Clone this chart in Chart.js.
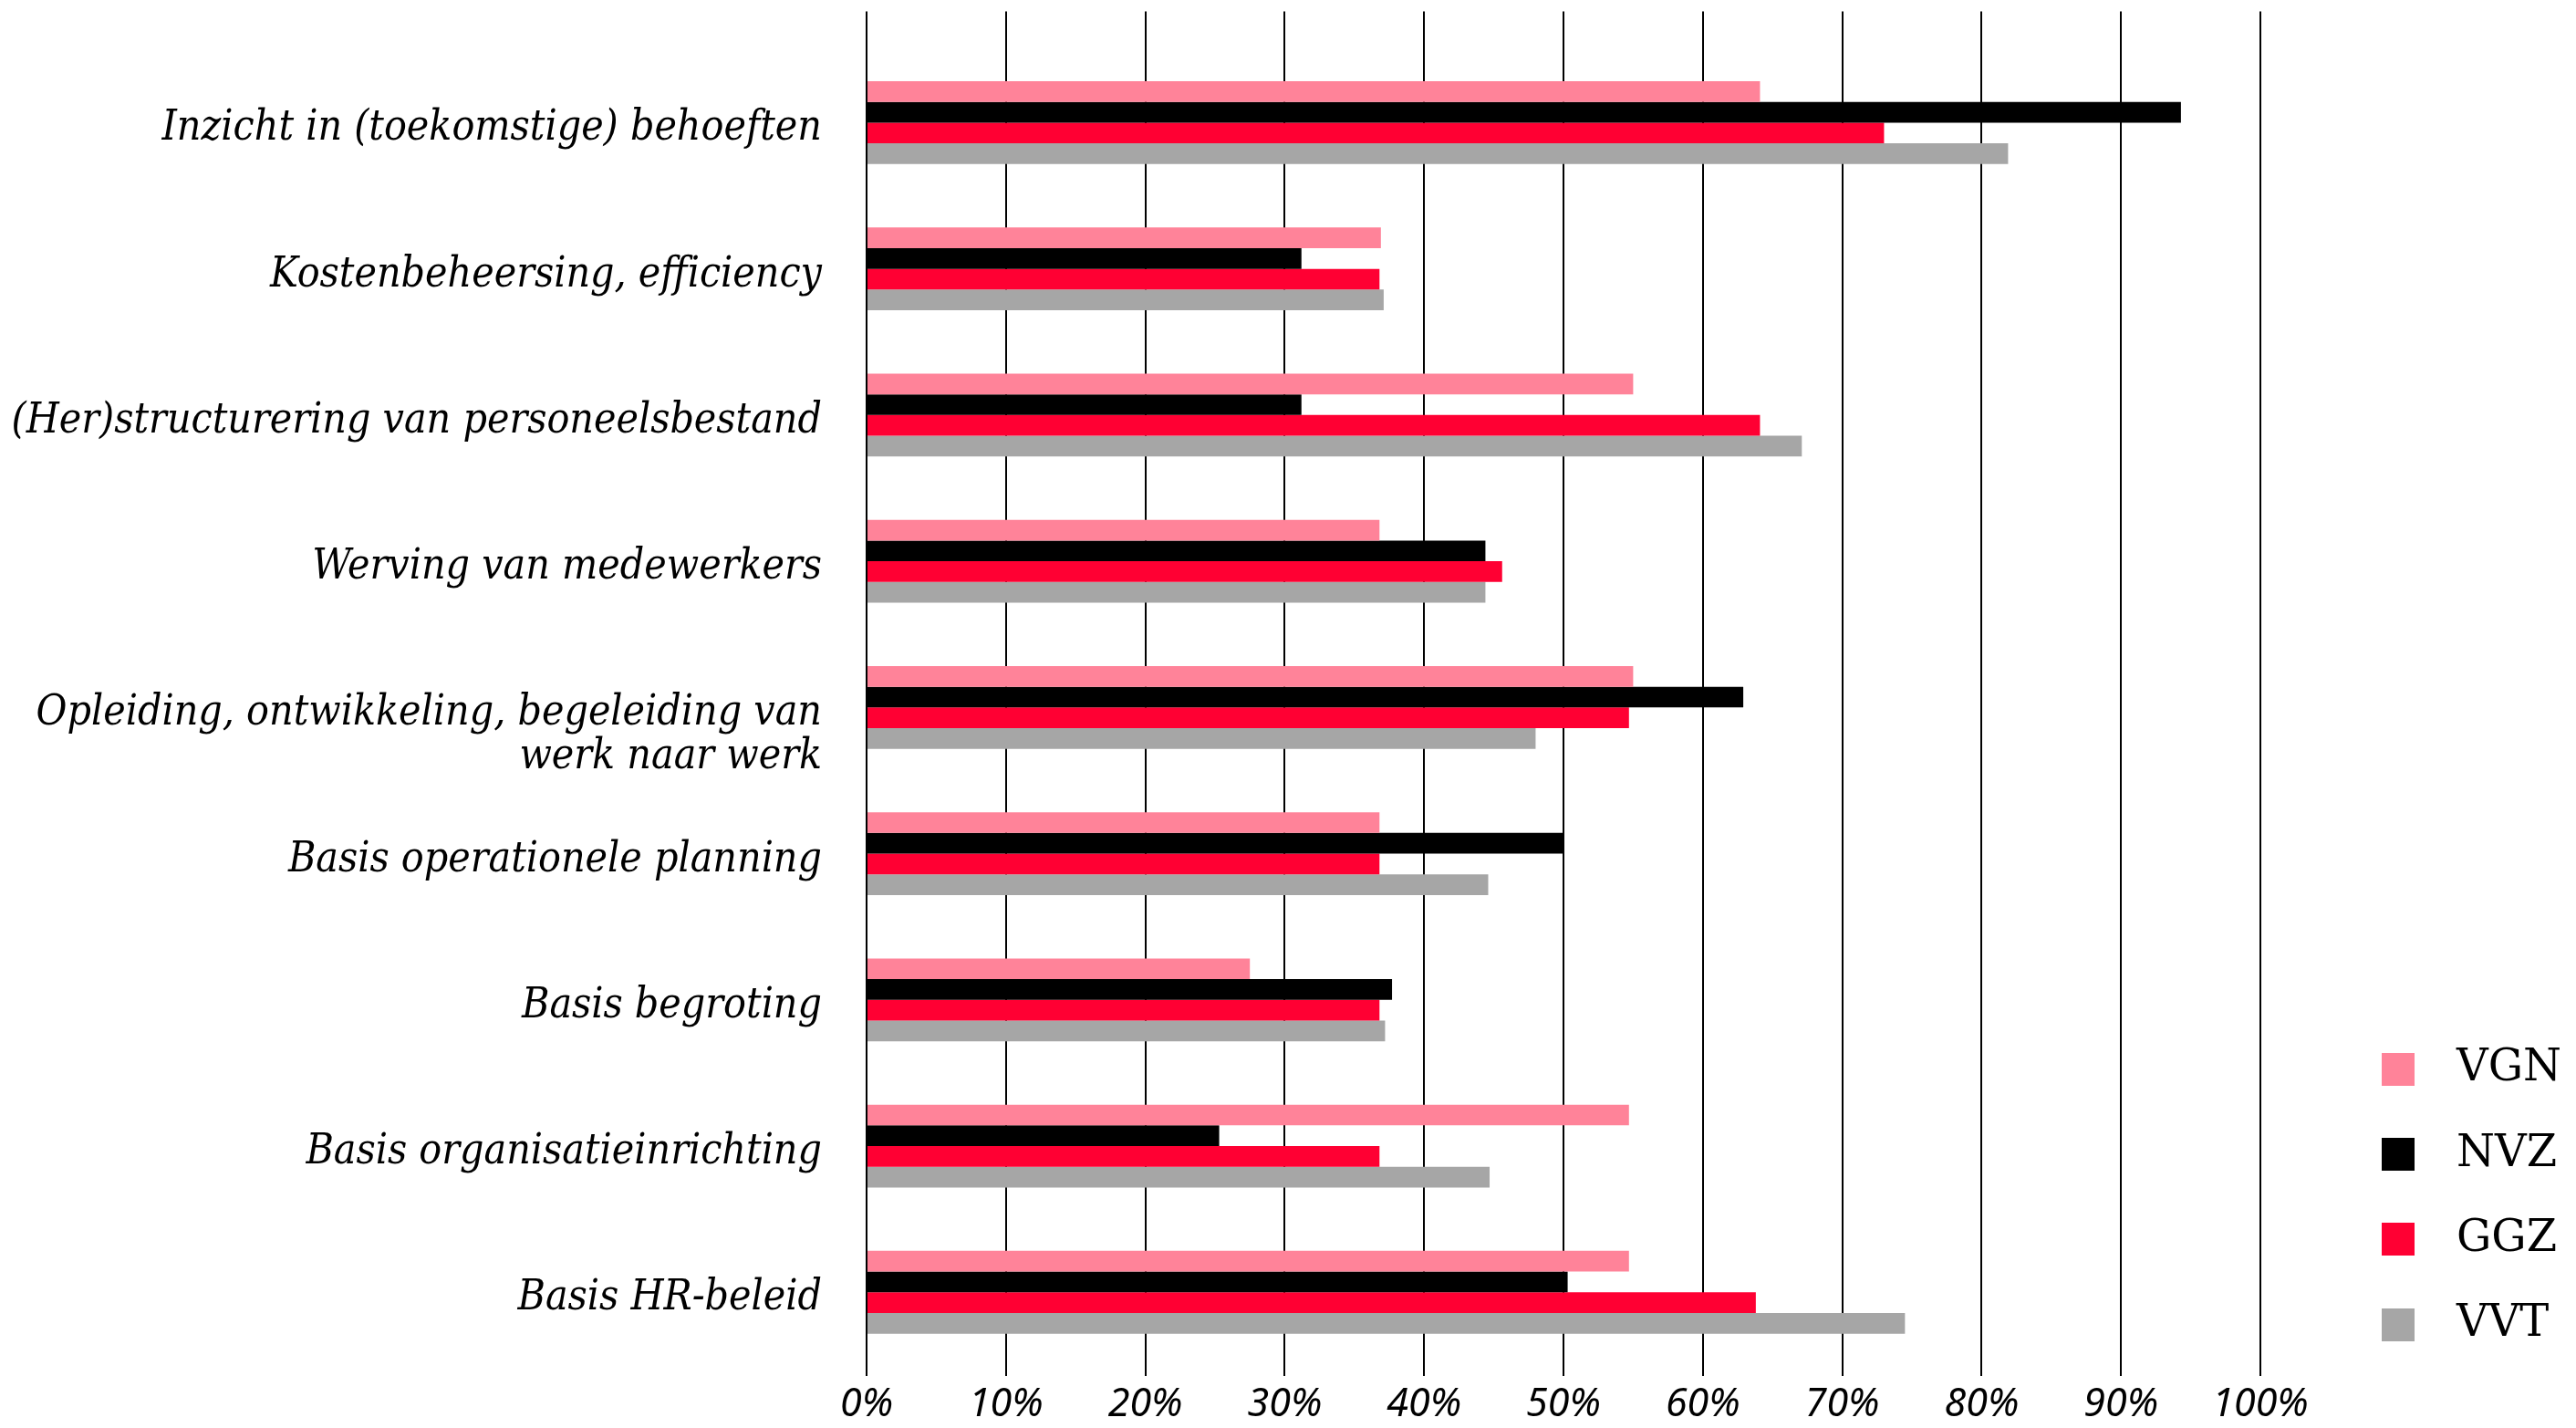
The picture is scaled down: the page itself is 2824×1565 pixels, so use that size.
<!DOCTYPE html>
<html>
<head>
<meta charset="utf-8">
<script src="https://cdn.jsdelivr.net/npm/chart.js@4.4.1/dist/chart.umd.min.js"></script>
<style>
  html, body { margin: 0; padding: 0; background: #fff; }
  #wrap { width: 2824px; height: 1565px; }
  canvas { display: block; }
</style>
</head>
<body>
<div id="wrap"><canvas id="chart" width="2824" height="1565"></canvas></div>
<script>
// Categories (top to bottom); "\n" marks a line break in a label
const categories = [
  'Inzicht in (toekomstige) behoeften',
  'Kostenbeheersing, efficiency',
  '(Her)structurering van personeelsbestand',
  'Werving van medewerkers',
  'Opleiding, ontwikkeling, begeleiding van\nwerk naar werk',
  'Basis operationele planning',
  'Basis begroting',
  'Basis organisatieinrichting',
  'Basis HR-beleid'
];

// Share of organisations per sector (%)
const seriesNames = ['VGN', 'NVZ', 'GGZ', 'VVT'];
const VGN = [64.1, 36.9, 55.0, 36.8, 55.0, 36.8, 27.5, 54.7, 54.7];
const NVZ = [94.3, 31.2, 31.2, 44.4, 62.9, 50.0, 37.7, 25.3, 50.3];
const GGZ = [73.0, 36.8, 64.1, 45.6, 54.7, 36.8, 36.8, 36.8, 63.8];
const VVT = [81.9, 37.1, 67.1, 44.4, 48.0, 44.6, 37.2, 44.7, 74.5];
const seriesValues = [VGN, NVZ, GGZ, VVT];
const seriesColors = ['#ff8399', '#000000', '#ff0033', '#a6a6a6'];

// Percentage ticks on the value axis
const pctTicks = [0, 10, 20, 30, 40, 50, 60, 70, 80, 90, 100];

// Axis extents: the value axis runs on past 100% into the legend gutter,
// the category axis leaves a little room above the first group and below the last
const X_MAX = 105.74;
const Y_MIN = -0.7607;
const Y_MAX = 8.5723;

// Legend swatch: square on the left of a wider transparent tile, so the
// label sits further from the square
function swatch(color) {
  const c = document.createElement('canvas');
  c.width = 58; c.height = 36;
  const g = c.getContext('2d');
  g.fillStyle = color;
  g.fillRect(0, 0, 36, 36);
  return c;
}

// Nudges the legend block down a little below the chart area's bottom edge
const legendNudge = {
  id: 'legendNudge',
  afterLayout(chart) {
    const lg = chart.legend;
    if (lg) { lg.top += 13; lg.bottom += 13; }
  }
};

const labelFont = { family: "'DejaVu Serif Condensed', 'Liberation Serif', serif", style: 'italic', size: 46, lineHeight: 1.03 };

new Chart(document.getElementById('chart'), {
  type: 'bar',
  data: {
    datasets: seriesNames.map((name, k) => ({
      label: name,
      data: seriesValues[k].map((v, i) => ({ x: v, y: i })),
      backgroundColor: seriesColors[k],
      borderWidth: 0,
      categoryPercentage: 0.567,
      barPercentage: 1
    }))
  },
  plugins: [legendNudge],
  options: {
    indexAxis: 'y',
    responsive: false,
    animation: false,
    devicePixelRatio: 1,
    layout: { padding: { top: 12.5, right: 6, bottom: 0, left: 0 } },
    plugins: {
      tooltip: { enabled: false },
      legend: {
        position: 'right',
        align: 'end',
        fullSize: false,
        labels: {
          usePointStyle: true,
          pointStyleWidth: 58,
          boxHeight: 36,
          padding: 45.3,
          color: '#000',
          font: { family: "'DejaVu Serif', serif", size: 48 },
          generateLabels(chart) {
            const items = Chart.defaults.plugins.legend.labels.generateLabels(chart);
            items.forEach(it => { it.pointStyle = swatch(it.fillStyle); });
            return items;
          }
        }
      }
    },
    scales: {
      x: {
        type: 'linear',
        position: 'bottom',
        min: 0,
        max: X_MAX,
        offset: false,
        afterBuildTicks(scale) { scale.ticks = pctTicks.map(v => ({ value: v })); },
        afterFit(scale) { scale.height = 57; scale.paddingLeft = 0; scale.paddingRight = 0; },
        grid: { color: '#000', lineWidth: 2, drawTicks: false },
        border: { display: false },
        ticks: {
          padding: 6,
          color: '#000',
          font: { family: "'Noto Sans', sans-serif", style: 'italic', size: 43, lineHeight: 1.2 },
          callback: v => v + '%'
        }
      },
      y: {
        type: 'linear',
        reverse: true,
        offset: false,
        min: Y_MIN,
        max: Y_MAX,
        afterBuildTicks(scale) { scale.ticks = categories.map((_, i) => ({ value: i })); },
        afterFit(scale) { scale.width = 950; scale.paddingTop = 0; scale.paddingBottom = 0; },
        grid: { display: false },
        border: { display: false },
        ticks: {
          padding: 41,
          labelOffset: 7,
          color: '#000',
          font: labelFont,
          // multi-line labels hang from the tick: first line level with the bars
          callback: v => {
            const lines = categories[v].split('\n');
            return lines.length > 1 ? [''].concat(lines) : lines[0];
          }
        }
      }
    }
  }
});
</script>
</body>
</html>
